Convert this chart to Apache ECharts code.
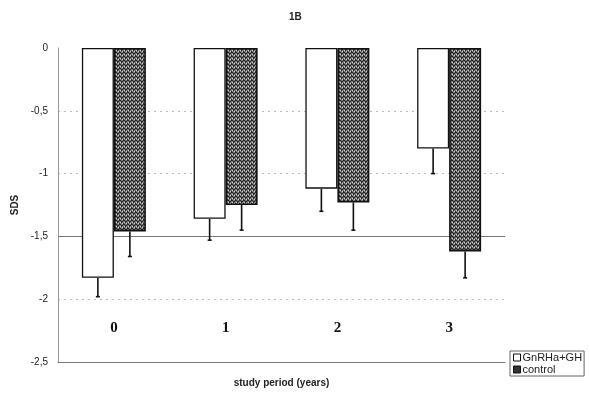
<!DOCTYPE html>
<html>
<head>
<meta charset="utf-8">
<script src="https://cdn.jsdelivr.net/npm/echarts@6/dist/echarts.min.js"></script>
<style>
html,body{margin:0;padding:0;background:#fff;}
#chart{width:590px;height:399px;}
</style>
</head>
<body>
<div id="chart"></div>
<script>
// Study period categories (years)
var categories = ['0', '1', '2', '3'];
// Mean SDS per group
var treated = [-1.83, -1.36, -1.12, -0.80];
var control = [-1.46, -1.25, -1.23, -1.62];
// Lower end of the error bars
var treatedErr = [-1.98, -1.53, -1.30, -1.00];
var controlErr = [-1.66, -1.45, -1.45, -1.83];
var seriesNames = ['GnRHa+GH', 'control'];
var refLevel = -1.5;

var BAR_W = 32;

// Dithered grey fill for the control bars
function ditherPattern() {
  var c = document.createElement('canvas');
  c.width = 4; c.height = 4;
  var ctx = c.getContext('2d');
  ctx.fillStyle = '#7a7a7a';
  ctx.fillRect(0, 0, 4, 4);
  ctx.fillStyle = '#222';
  var dots = [[0,0],[2,1],[1,2],[3,3],[3,0],[1,1]];
  dots.forEach(function (d) { ctx.fillRect(d[0], d[1], 1, 1); });
  ctx.fillStyle = '#d0d0d0';
  [[2,3],[0,2]].forEach(function (d) { ctx.fillRect(d[0], d[1], 1, 1); });
  return c;
}

function errorSeries(values, lows, offset) {
  return {
    type: 'custom',
    silent: true,
    z: 1,
    data: values.map(function (v, i) { return [i, v, lows[i]]; }),
    renderItem: function (params, api) {
      var top = api.coord([api.value(0), api.value(1)]);
      var bot = api.coord([api.value(0), api.value(2)]);
      var x = top[0] + offset;
      return {
        type: 'group',
        children: [
          { type: 'line', shape: { x1: x, y1: top[1], x2: x, y2: bot[1] },
            style: { stroke: '#111', lineWidth: 1.6 } },
          { type: 'line', shape: { x1: x - 2, y1: bot[1], x2: x + 2, y2: bot[1] },
            style: { stroke: '#111', lineWidth: 1.6 } }
        ]
      };
    }
  };
}

var chart = echarts.init(document.getElementById('chart'));
chart.setOption({
  animation: false,
  backgroundColor: '#fff',
  title: {
    text: '1B', left: 284, top: 7,
    textStyle: { fontFamily: 'Arial, Liberation Sans', fontSize: 10, fontWeight: 'bold', color: '#222' }
  },
  legend: {
    data: [
      { name: seriesNames[0], icon: 'rect', itemStyle: { color: '#fff', borderColor: '#111', borderWidth: 1 } },
      { name: seriesNames[1], icon: 'rect', itemStyle: { color: '#333', borderColor: '#111', borderWidth: 1 } }
    ],
    orient: 'vertical',
    left: 510, top: 351,
    itemWidth: 7, itemHeight: 7, itemGap: 1,
    padding: [1, 2, 1, 3],
    borderColor: '#666', borderWidth: 1,
    textStyle: { fontFamily: 'Arial, Liberation Sans', fontSize: 11, color: '#222', padding: [0, 0, 0, -3] }
  },
  grid: { left: 58, right: 85, top: 48, bottom: 37 },
  xAxis: {
    type: 'category',
    data: categories,
    name: 'study period (years)',
    nameLocation: 'middle',
    nameGap: 16,
    nameTextStyle: { fontFamily: 'Arial, Liberation Sans', fontSize: 10, fontWeight: 'bold', color: '#222' },
    axisLine: { onZero: false, lineStyle: { color: '#777', width: 1 } },
    axisTick: { show: false },
    axisLabel: {
      inside: true, margin: 26,
      fontFamily: 'Liberation Serif, Times New Roman, serif',
      fontSize: 15, fontWeight: 'bold', color: '#111'
    }
  },
  yAxis: {
    type: 'value',
    min: -2.5, max: 0, interval: 0.5,
    name: 'SDS',
    nameLocation: 'middle',
    nameGap: 36,
    nameTextStyle: { fontFamily: 'Arial, Liberation Sans', fontSize: 10, fontWeight: 'bold', color: '#222' },
    axisLine: { show: true, lineStyle: { color: '#999', width: 1 } },
    axisTick: { show: false },
    axisLabel: {
      fontFamily: 'Arial, Liberation Sans', fontSize: 10, color: '#222', margin: 10,
      formatter: function (v) { return String(v).replace('.', ','); }
    },
    splitLine: {
      show: true,
      lineStyle: { color: ['#fff', '#bbb', '#bbb', '#bbb', '#bbb', '#fff'], type: [2, 4], width: 1 }
    }
  },
  series: [
    {
      name: seriesNames[0], type: 'bar', data: treated,
      barWidth: BAR_W, barGap: '0%', z: 3,
      itemStyle: { color: '#fff', borderColor: '#111', borderWidth: 1.3 },
      markLine: {
        silent: true, symbol: 'none', label: { show: false },
        lineStyle: { color: '#777', type: 'solid', width: 1.2 },
        data: [{ yAxis: refLevel }],
        z: 1
      }
    },
    {
      name: seriesNames[1], type: 'bar', data: control,
      barWidth: BAR_W, z: 3,
      itemStyle: { color: { image: ditherPattern(), repeat: 'repeat' }, borderColor: '#111', borderWidth: 1.6 }
    },
    errorSeries(treated, treatedErr, -BAR_W / 2),
    errorSeries(control, controlErr, BAR_W / 2)
  ]
});
</script>
</body>
</html>
